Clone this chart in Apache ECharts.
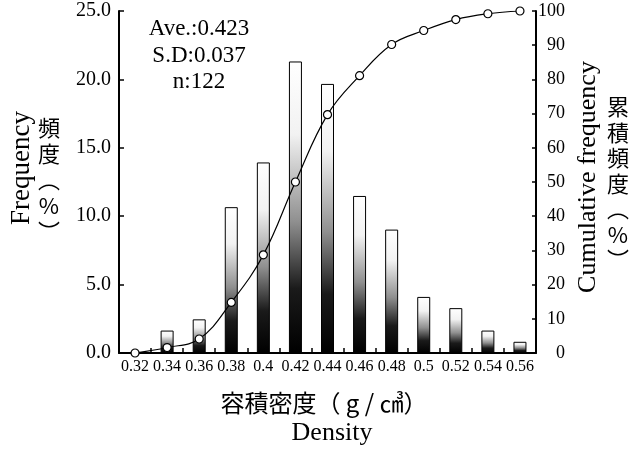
<!DOCTYPE html>
<html>
<head>
<meta charset="utf-8">
<script src="https://cdn.jsdelivr.net/npm/echarts@6/dist/echarts.min.js"></script>
<style>
html,body{margin:0;padding:0;background:#fff;}
#chart{width:635px;height:450px;}
</style>
</head>
<body>
<div id="chart"></div>
<script>
const categories = ['0.32','0.34','0.36','0.38','0.4','0.42','0.44','0.46','0.48','0.5','0.52','0.54','0.56'];
const frequency = [0, 1.64, 2.46, 10.66, 13.93, 21.31, 19.67, 11.48, 9.02, 4.10, 3.28, 1.64, 0.82];
const cumulative = [0, 1.6, 4.1, 14.8, 28.7, 50.0, 69.7, 81.1, 90.2, 94.3, 97.5, 99.2, 100];
const statsLines = ['Ave.:0.423', 'S.D:0.037', 'n:122'];

const serif = 'Liberation Serif';

const chart = echarts.init(document.getElementById('chart'), null, {renderer: 'canvas'});

const barGradient = new echarts.graphic.LinearGradient(0, 0, 0, 1, [
  {offset: 0, color: '#ffffff'},
  {offset: 0.25, color: '#f2f2f2'},
  {offset: 0.55, color: '#8f8f8f'},
  {offset: 0.78, color: '#1a1a1a'},
  {offset: 1, color: '#000000'}
]);

chart.setOption({
  animation: false,
  backgroundColor: '#ffffff',
  grid: {left: 119, right: 99, top: 11, bottom: 97, containLabel: false},
  xAxis: {
    type: 'category',
    data: categories,
    boundaryGap: true,
    axisLine: {show: true, lineStyle: {color: '#000', width: 2}},
    axisTick: {show: true, inside: true, length: 5, lineStyle: {color: '#000', width: 1.5}},
    axisLabel: {interval: 0, margin: 6, color: '#000', fontFamily: serif, fontSize: 16},
    splitLine: {show: false}
  },
  yAxis: [
    {
      type: 'value', min: 0, max: 25, interval: 5, position: 'left',
      axisLine: {show: true, lineStyle: {color: '#000', width: 2}},
      axisTick: {show: true, inside: true, length: 5, lineStyle: {color: '#000', width: 1.5}},
      axisLabel: {margin: 8, color: '#000', fontFamily: serif, fontSize: 20,
        formatter: v => v.toFixed(1)},
      splitLine: {show: false}
    },
    {
      type: 'value', min: 0, max: 100, interval: 10, position: 'right',
      axisLine: {show: true, lineStyle: {color: '#000', width: 2}},
      axisTick: {show: true, inside: true, length: 4, lineStyle: {color: '#000', width: 1.5}},
      axisLabel: {margin: 29, align: 'right', color: '#000', fontFamily: serif, fontSize: 18, padding: [4, 0, 0, 0]},
      splitLine: {show: false}
    }
  ],
  series: [
    {
      type: 'bar', yAxisIndex: 0, data: frequency, barWidth: 13,
      itemStyle: {color: barGradient, borderColor: '#000', borderWidth: 1},
      z: 2
    },
    {
      type: 'line', yAxisIndex: 1, data: cumulative, smooth: 0.4,
      symbol: 'circle', symbolSize: 8, showAllSymbol: true,
      lineStyle: {color: '#000', width: 1.2},
      itemStyle: {color: '#fff', borderColor: '#000', borderWidth: 1.2},
      z: 5
    }
  ],
  graphic: [
    {type: 'text', x: 199, y: 16, z: 10, style: {text: statsLines.join('\n'), font: '23px "Liberation Serif"', lineHeight: 26.5, textAlign: 'center', textVerticalAlign: 'top', fill: '#000'}},
    {type: 'text', x: 22, y: 168, rotation: Math.PI / 2, z: 10, style: {text: 'Frequency', font: '27px "Liberation Serif"', textAlign: 'center', textVerticalAlign: 'middle', fill: '#000'}},
    {type: 'text', x: 49, y: 115, z: 10, style: {text: '頻\n度\n︵\n%\n︶', font: '22px "Noto Sans CJK JP"', lineHeight: 26, textAlign: 'center', textVerticalAlign: 'top', fill: '#000'}},
    {type: 'text', x: 588, y: 177, rotation: Math.PI / 2, z: 10, style: {text: 'Cumulative frequency', font: '26px "Liberation Serif"', textAlign: 'center', textVerticalAlign: 'middle', fill: '#000'}},
    {type: 'text', x: 618, y: 94, z: 10, style: {text: '累\n積\n頻\n度\n︵\n%\n︶', font: '22px "Noto Sans CJK JP"', lineHeight: 25.5, textAlign: 'center', textVerticalAlign: 'top', fill: '#000'}},
    {type: 'text', x: 324, y: 403, z: 10, style: {text: '容積密度（ g / ㎤）', font: '24px "Noto Sans CJK JP"', textAlign: 'center', textVerticalAlign: 'middle', fill: '#000'}},
    {type: 'text', x: 332, y: 433, z: 10, style: {text: 'Density', font: '26px "Liberation Serif"', textAlign: 'center', textVerticalAlign: 'middle', fill: '#000'}}
  ]
});
</script>
</body>
</html>
